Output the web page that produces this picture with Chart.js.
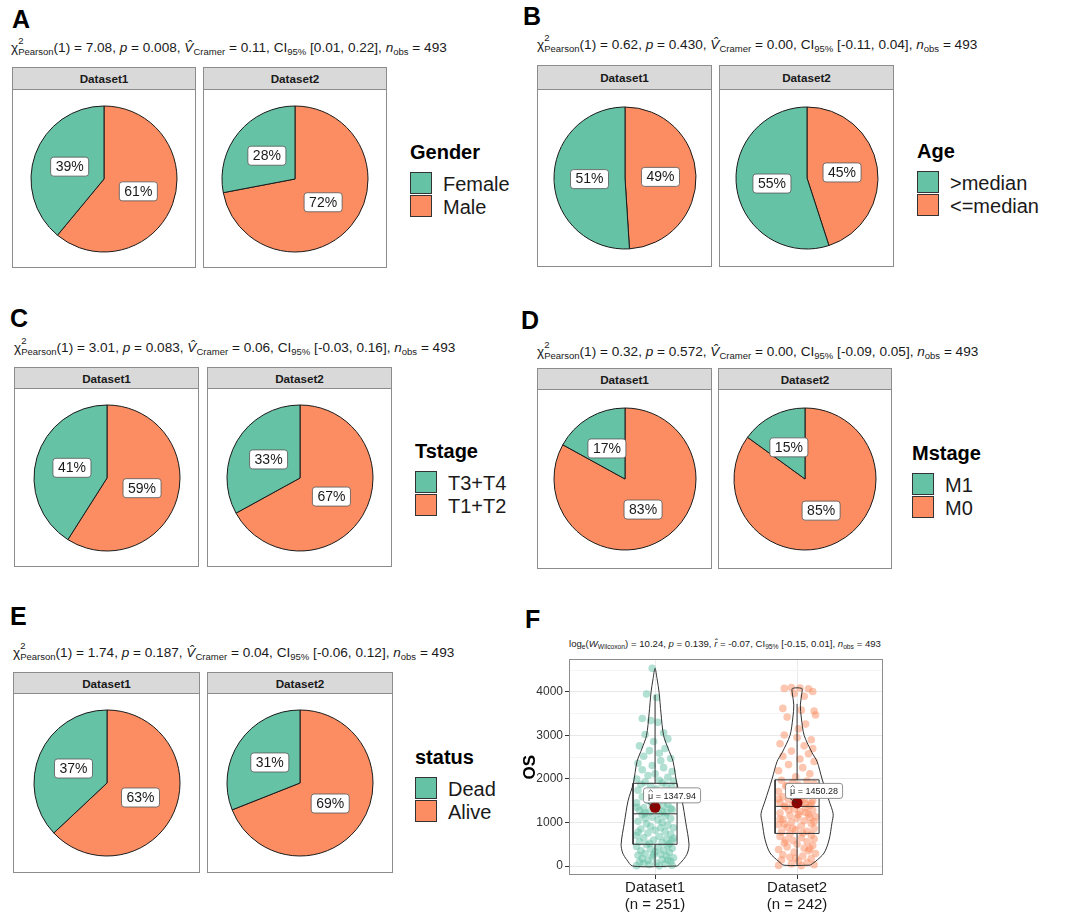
<!DOCTYPE html>
<html><head><meta charset="utf-8">
<script src="https://cdn.jsdelivr.net/npm/chart.js@4.4.1/dist/chart.umd.min.js"></script>
<style>
body{margin:0;background:#fff;font-family:"Liberation Sans",Arial,sans-serif;color:#1a1a1a}
#root{position:relative;width:1091px;height:912px;overflow:hidden;background:#fff}
.abs{position:absolute;line-height:1;white-space:nowrap}
.tag{font-weight:bold;color:#000}
.sub{color:#1a1a1a}
.sub sub{font-size:.7em;vertical-align:-.3em;line-height:0}
.stk{position:relative;font-size:.7em;vertical-align:-.3em;line-height:0}
.stk .up{position:absolute;left:0;top:-1.1em;line-height:1}
.facet{position:absolute;box-sizing:border-box;border:1px solid #8c8c8c;background:#fff}
.strip{box-sizing:border-box;background:#d9d9d9;border-bottom:1px solid #8c8c8c;display:flex;align-items:center;justify-content:center;font-weight:bold;font-size:11.7px;color:#1a1a1a}
.key{position:absolute;box-sizing:border-box;border:1px solid #333;width:22px;height:22px}
.ltitle{font-weight:bold;color:#000}
canvas{position:absolute}
</style>
</head><body><div id="root"></div>
<script>
// ---------------- data ----------------
const facetNames = ['Dataset1', 'Dataset2'];

const genderLevels = ['Female', 'Male'];
const genderDataset1 = [39, 61];
const genderDataset2 = [28, 72];

const ageLevels = ['>median', '<=median'];
const ageDataset1 = [51, 49];
const ageDataset2 = [55, 45];

const tstageLevels = ['T3+T4', 'T1+T2'];
const tstageDataset1 = [41, 59];
const tstageDataset2 = [33, 67];

const mstageLevels = ['M1', 'M0'];
const mstageDataset1 = [17, 83];
const mstageDataset2 = [15, 85];

const statusLevels = ['Dead', 'Alive'];
const statusDataset1 = [37, 63];
const statusDataset2 = [31, 69];

// chi-square subtitles: chi2, p, Cramer V, CI low, CI high
const chiStat = ['7.08', '0.62', '3.01', '0.32', '1.74'];
const chiP = ['0.008', '0.430', '0.083', '0.572', '0.187'];
const cramerV = ['0.11', '0.00', '0.06', '0.00', '0.04'];
const ciLow = ['0.01', '-0.11', '-0.03', '-0.09', '-0.06'];
const ciHigh = ['0.22', '0.04', '0.16', '0.05', '0.12'];
const nObs = 493;

// panel F: OS by dataset
const osCategories = ['Dataset1', 'Dataset2'];
const osCounts = [251, 242];
const osMeans = [1347.94, 1450.28];
const osQ1 = [500, 750];
const osMedian = [1200, 1370];
const osQ3 = [1900, 1980];
const osWhiskerLow = [0, 20];
const osWhiskerHigh = [3930, 3725];
const yTickValues = [0, 500, 1000, 1500, 2000, 2500, 3000, 3500, 4000, 4500];
const yTickLabels = ['0', '', '1000', '', '2000', '', '3000', '', '4000', ''];

const violin1Y = [0, 150, 300, 500, 1000, 1500, 1900, 2400, 2700, 3000, 3500, 4000, 4300, 4540];
const violin1W = [0.157, 0.2, 0.228, 0.239, 0.216, 0.19, 0.153, 0.127, 0.092, 0.06, 0.042, 0.028, 0.014, 0];
const violin2Y = [20, 100, 300, 600, 1000, 1200, 1500, 2000, 2400, 2600, 3000, 3400, 3700, 4000, 4080];
const violin2W = [0.092, 0.127, 0.19, 0.225, 0.246, 0.254, 0.225, 0.176, 0.141, 0.106, 0.05, 0.03, 0.023, 0.035, 0.033];

// jittered observations: [horizontal jitter, OS]
const dataset1Jitter = [
[-0.02,4540],[-0.06,3950],[0.01,3870],[-0.09,3390],[-0.03,3340],[0.02,3300],[0.06,3060],[-0.07,3020],[0.09,2920],[-0.01,2860],
[-0.11,2760],[0.07,2700],[-0.04,2650],[0.03,2590],[-0.08,2520],[0.11,2470],[0.04,2420],[-0.12,2360],[-0.02,2310],[0.06,2260],
[-0.09,2210],[0.12,2170],[0.0,2120],[-0.05,2080],[0.09,2040],[-0.13,2000],[0.03,1970],[0.13,1950],[-0.07,1930],[0.05,1910],
[-0.1,1880],[0.08,1860],[-0.03,1830],[0.12,1800],[0.01,1770],[-0.12,1740],[0.06,1710],[-0.06,1680],[0.1,1650],[-0.01,1620],
[-0.09,1590],[0.04,1560],[0.13,1530],[-0.05,1500],[0.02,1470],[-0.13,1450],[0.09,1420],[-0.02,1390],[0.06,1370],[-0.08,1340],
[0.11,1320],[0.0,1300],[-0.11,1280],[0.05,1260],[-0.04,1240],[0.08,1225],[-0.07,1215],[0.03,1205],[0.12,1290],[-0.13,1350],
[-0.09,1180],[0.07,1150],[-0.02,1120],[0.11,1090],[0.02,1060],[-0.12,1030],[0.05,1000],[-0.06,970],[0.09,940],[-0.03,910],
[0.13,880],[-0.1,850],[0.0,820],[0.07,790],[-0.05,760],[0.11,730],[-0.13,700],[0.03,680],[-0.08,650],[0.08,620],
[-0.01,600],[0.12,580],[-0.11,560],[0.05,540],[-0.04,520],[0.1,510],[-0.07,1100],[0.04,880],[-0.12,780],[0.13,640],
[-0.06,490],[0.09,470],[-0.13,450],[0.02,430],[0.12,410],[-0.03,390],[0.06,370],[-0.1,350],[0.0,330],[0.1,310],
[-0.07,290],[0.04,270],[-0.12,250],[0.08,230],[-0.02,210],[0.13,190],[-0.09,170],[0.05,150],[-0.05,130],[0.11,110],
[-0.11,90],[0.01,70],[0.07,50],[-0.04,35],[0.12,20],[-0.13,10],[0.03,5],[-0.08,60],[0.09,140],[-0.01,260]
];
const dataset2Jitter = [
[-0.09,4080],[-0.04,4100],[0.02,4090],[0.08,4070],[0.11,4010],[-0.02,3960],[0.05,3900],[-0.1,3620],[0.03,3580],[0.12,3560],
[0.13,3470],[-0.07,3420],[0.06,3260],[0.01,3150],[-0.09,3010],[0.0,2950],[0.1,2900],[-0.12,2810],[0.05,2760],[0.11,2700],
[-0.04,2640],[0.08,2580],[-0.1,2520],[0.02,2460],[0.12,2400],[-0.06,2330],[0.04,2260],[-0.13,2190],[0.09,2120],[-0.01,2050],
[-0.11,1970],[0.07,1950],[-0.03,1920],[0.12,1890],[0.01,1860],[-0.08,1830],[0.1,1800],[-0.05,1770],[0.04,1740],[-0.13,1710],
[0.08,1680],[-0.01,1650],[0.13,1620],[-0.1,1590],[0.03,1560],[-0.06,1530],[0.11,1500],[0.0,1470],[-0.12,1450],[0.06,1430],
[-0.03,1410],[0.09,1390],[-0.09,1380],[0.02,1600],[0.12,1720],[-0.07,1850],[0.05,1520],[-0.02,1760],[0.1,1440],[-0.13,1540],
[-0.08,1360],[0.06,1340],[-0.02,1310],[0.11,1280],[0.02,1250],[-0.12,1220],[0.08,1190],[-0.05,1160],[0.13,1130],[0.0,1100],
[-0.1,1070],[0.05,1040],[-0.04,1010],[0.1,980],[-0.13,950],[0.03,920],[-0.07,890],[0.12,860],[-0.01,830],[0.07,800],
[-0.11,780],[0.04,760],[-0.06,1290],[0.09,1120],[-0.09,960],[0.01,1180],[0.12,1020],[-0.03,870],[0.06,1230],[-0.12,1080],
[-0.05,740],[0.1,710],[-0.12,680],[0.03,650],[0.12,620],[-0.03,590],[0.07,560],[-0.09,530],[0.0,500],[0.11,470],
[-0.07,440],[0.05,410],[-0.13,380],[0.08,350],[-0.02,320],[0.13,290],[-0.1,260],[0.04,230],[-0.05,200],[0.1,170],
[-0.11,140],[0.01,110],[0.07,80],[-0.04,50],[0.12,30],[-0.13,15],[0.03,10],[-0.08,600],[0.09,400],[-0.01,180]
];

// ---------------- layout / style ----------------
const GREEN = '#66C2A5', ORANGE = '#FC8D62';
const FONT = '"Liberation Sans", Arial, sans-serif';
const root = document.getElementById('root');

const panels = [
  {tag:'A', tagX:12, tagBase:28, subX:11, subBase:53, facets:[[12,196],[203,387]], stripTop:67, stripBot:89, bottom:268, r:73, lx:410, keyTop:172, title:'Gender', levels:genderLevels, d:[genderDataset1, genderDataset2]},
  {tag:'B', tagX:523, tagBase:25, subX:537, subBase:50, facets:[[537,712],[719,894]], stripTop:65, stripBot:89, bottom:267, r:71, lx:917, keyTop:171, title:'Age', levels:ageLevels, d:[ageDataset1, ageDataset2]},
  {tag:'C', tagX:10, tagBase:327, subX:14, subBase:353, facets:[[14,199],[207,392]], stripTop:367, stripBot:388, bottom:567, r:73, lx:415, keyTop:471, title:'Tstage', levels:tstageLevels, d:[tstageDataset1, tstageDataset2]},
  {tag:'D', tagX:521, tagBase:329, subX:537, subBase:357, facets:[[537,712],[718,892]], stripTop:368, stripBot:389, bottom:569, r:71, lx:912, keyTop:473, title:'Mstage', levels:mstageLevels, d:[mstageDataset1, mstageDataset2]},
  {tag:'E', tagX:10, tagBase:625, subX:13, subBase:658, facets:[[13,200],[207,393]], stripTop:672, stripBot:693, bottom:873, r:73, lx:415, keyTop:777, title:'status', levels:statusLevels, d:[statusDataset1, statusDataset2]}
];

function addText(html, x, baseline, fs, cls) {
  const d = document.createElement('div');
  d.className = 'abs ' + (cls || '');
  d.style.fontSize = fs + 'px';
  d.style.left = x + 'px';
  d.style.top = (baseline - 0.8465 * fs) + 'px';
  d.innerHTML = html;
  root.appendChild(d);
  return d;
}
function addBox(cls, x, y, w, h) {
  const d = document.createElement('div');
  d.className = cls;
  Object.assign(d.style, {left:x+'px', top:y+'px', width:w+'px', height:h+'px'});
  root.appendChild(d);
  return d;
}
function chiSubtitle(i) {
  return '\u03C7<span class="stk"><span class="up">2</span>Pearson</span>(1) = ' + chiStat[i] +
    ', <i>p</i> = ' + chiP[i] + ', <i>V\u0302</i><sub>Cramer</sub> = ' + cramerV[i] +
    ', CI<sub>95%</sub> [' + ciLow[i] + ', ' + ciHigh[i] + '], <i>n</i><sub>obs</sub> = ' + nObs;
}

const pctLabelPlugin = {
  id: 'pctLabels',
  afterDatasetsDraw(chart) {
    const ctx = chart.ctx;
    const ds = chart.data.datasets[0];
    chart.getDatasetMeta(0).data.forEach((arc, i) => {
      const p = arc.getCenterPoint();
      const txt = ds.data[i] + '%';
      ctx.save();
      ctx.font = '14px ' + FONT;
      const w = ctx.measureText(txt).width + 10, h = 19;
      const x = p.x - w / 2, y = p.y - h / 2;
      ctx.beginPath();
      ctx.roundRect(x, y, w, h, 3);
      ctx.fillStyle = '#fff';
      ctx.fill();
      ctx.lineWidth = 0.8;
      ctx.strokeStyle = '#555';
      ctx.stroke();
      ctx.fillStyle = '#1a1a1a';
      ctx.textAlign = 'center';
      ctx.textBaseline = 'middle';
      ctx.fillText(txt, p.x, p.y + 0.5);
      ctx.restore();
    });
  }
};

function makePie(cx, cy, r, values) {
  const c = document.createElement('canvas');
  const size = 2 * r + 6;
  c.width = size; c.height = size;
  c.style.left = (cx - size / 2) + 'px';
  c.style.top = (cy - size / 2) + 'px';
  root.appendChild(c);
  new Chart(c, {
    type: 'pie',
    data: {
      labels: ['b', 'a'],
      datasets: [{
        data: [values[1], values[0]],
        backgroundColor: [ORANGE, GREEN],
        borderColor: '#1a1a1a',
        borderWidth: 1,
        radius: r
      }]
    },
    options: {
      responsive: false, animation: false, devicePixelRatio: 1,
      layout: {padding: 0},
      events: [],
      plugins: {legend: {display: false}, tooltip: {enabled: false}}
    },
    plugins: [pctLabelPlugin]
  });
}

panels.forEach((p, pi) => {
  addText(p.tag, p.tagX, p.tagBase, 25, 'tag');
  addText(chiSubtitle(pi), p.subX, p.subBase, 13.6, 'sub');
  p.facets.forEach(([x0, x1], fi) => {
    const f = addBox('facet', x0, p.stripTop, x1 - x0, p.bottom - p.stripTop);
    const s = document.createElement('div');
    s.className = 'strip';
    s.style.height = (p.stripBot - p.stripTop) + 'px';
    s.textContent = facetNames[fi];
    f.appendChild(s);
    makePie((x0 + x1) / 2, (p.stripBot + p.bottom) / 2, p.r, p.d[fi]);
  });
  addText(p.title, p.lx, p.keyTop - 13, 20, 'ltitle');
  p.levels.forEach((lv, li) => {
    const k = addBox('key', p.lx, p.keyTop + li * 23, 22, 22);
    k.style.background = li === 0 ? GREEN : ORANGE;
    addText(lv, p.lx + 33, p.keyTop + li * 23 + 18.5, 20, '');
  });
});

// ---------------- panel F ----------------
addText('F', 525, 628, 25, 'tag');
addText('log<sub>e</sub>(<i>W</i><sub>Wilcoxon</sub>) = 10.24, <i>p</i> = 0.139, <i>r\u0302</i> = -0.07, CI<sub>95%</sub> [-0.15, 0.01], <i>n</i><sub>obs</sub> = 493', 569, 647, 9.6, 'sub');

const cf = document.createElement('canvas');
cf.width = 370; cf.height = 262;
cf.style.left = '520px'; cf.style.top = '650px';
root.appendChild(cf);

function violinPath(c, Y, W) {
  const right = Y.map((y, i) => ({x: c + W[i], y}));
  const left = Y.map((y, i) => ({x: c - W[i], y})).reverse();
  if (W[W.length - 1] === 0) left.shift();
  return [...right, ...left, right[0]];
}
function boxPath(i) {
  const c = i + 1, h = 0.155;
  return [
    {x:c, y:osWhiskerLow[i]}, {x:c, y:osQ1[i]}, {x:c, y:null},
    {x:c-h, y:osQ1[i]}, {x:c+h, y:osQ1[i]}, {x:c+h, y:osQ3[i]}, {x:c-h, y:osQ3[i]}, {x:c-h, y:osQ1[i]}, {x:c, y:null},
    {x:c-h, y:osMedian[i]}, {x:c+h, y:osMedian[i]}, {x:c, y:null},
    {x:c, y:osQ3[i]}, {x:c, y:osWhiskerHigh[i]}
  ];
}
const lineDs = (data, tension) => ({data, showLine:true, tension, borderColor:'#333', borderWidth:1, pointRadius:0, fill:false});

const framePlugin = {
  id: 'frame',
  afterDatasetsDraw(chart) {
    const {ctx, chartArea: a} = chart;
    // mean labels
    const meta = chart.getDatasetMeta(0);
    meta.data.forEach((pt, i) => {
      const mu = '\u03BC';
      const rest = ' = ' + osMeans[i].toFixed(2);
      ctx.save();
      ctx.font = '9px ' + FONT;
      const mw = ctx.measureText(mu).width;
      const tw = mw + ctx.measureText(rest).width;
      const w = tw + 9, h = 15;
      const lx = pt.x + 17, ly = pt.y - 12;
      ctx.strokeStyle = '#333'; ctx.lineWidth = 0.8;
      ctx.beginPath(); ctx.moveTo(pt.x, pt.y); ctx.lineTo(lx - w / 2 + 4, ly + h / 2); ctx.stroke();
      ctx.beginPath(); ctx.roundRect(lx - w / 2, ly - h / 2, w, h, 2.5);
      ctx.fillStyle = '#fff'; ctx.fill();
      ctx.strokeStyle = '#777'; ctx.stroke();
      const x0 = lx - tw / 2;
      ctx.fillStyle = '#1a1a1a'; ctx.textAlign = 'left'; ctx.textBaseline = 'middle';
      ctx.fillText(mu, x0, ly + 1);
      ctx.fillText(rest, x0 + mw, ly + 1);
      // hat over mu
      ctx.strokeStyle = '#1a1a1a'; ctx.lineWidth = 0.7;
      ctx.beginPath();
      ctx.moveTo(x0 + 0.5, ly - 3.5); ctx.lineTo(x0 + mw / 2, ly - 5.5); ctx.lineTo(x0 + mw - 0.5, ly - 3.5);
      ctx.stroke();
      ctx.restore();
    });
    ctx.save();
    ctx.strokeStyle = '#8c8c8c'; ctx.lineWidth = 1;
    ctx.strokeRect(Math.round(a.left) + 0.5, Math.round(a.top) + 0.5, Math.round(a.right - a.left) - 1, Math.round(a.bottom - a.top) - 1);
    ctx.restore();
  }
};

new Chart(cf, {
  type: 'scatter',
  data: {
    datasets: [
      {data: osMeans.map((m, i) => ({x: i + 1, y: m})), pointRadius: 5.5, backgroundColor: '#8B0000', borderColor: '#8B0000', borderWidth: 0},
      lineDs(boxPath(0), 0),
      lineDs(boxPath(1), 0),
      lineDs(violinPath(1, violin1Y, violin1W), 0.3),
      lineDs(violinPath(2, violin2Y, violin2W), 0.3),
      {data: dataset1Jitter.map(([dx, y]) => ({x: 1 + dx, y})), pointRadius: 3.8, backgroundColor: 'rgba(102,194,165,0.5)', borderWidth: 0},
      {data: dataset2Jitter.map(([dx, y]) => ({x: 2 + dx, y})), pointRadius: 3.8, backgroundColor: 'rgba(252,141,98,0.5)', borderWidth: 0}
    ]
  },
  options: {
    responsive: false, animation: false, devicePixelRatio: 1, events: [],
    layout: {padding: {top: 7, right: 7, left: 0, bottom: 0}},
    plugins: {legend: {display: false}, tooltip: {enabled: false}},
    scales: {
      x: {
        type: 'linear', min: 0.394, max: 2.605,
        afterBuildTicks: s => { s.ticks = osCategories.map((c, i) => ({value: i + 1})); },
        afterFit: s => { s.height = 37; },
        ticks: {
          autoSkip: false, maxRotation: 0, padding: 1,
          callback: (v, i) => [osCategories[i], '(n = ' + osCounts[i] + ')'],
          font: {size: 15, family: FONT, lineHeight: 1.1}, color: '#1a1a1a'
        },
        grid: {color: '#ebebeb', tickColor: '#333', tickLength: 4},
        border: {display: false}
      },
      y: {
        min: -205, max: 4750,
        afterBuildTicks: s => { s.ticks = yTickValues.map(v => ({value: v})); },
        afterFit: s => { s.width = 49; },
        ticks: {
          padding: 2,
          callback: (v, i) => yTickLabels[i],
          font: {size: 12, family: FONT}, color: '#333'
        },
        grid: {
          color: ctx => (ctx.tick && yTickLabels[ctx.index] !== '') ? '#e8e8e8' : '#f4f4f4',
          tickColor: ctx => (ctx.tick && yTickLabels[ctx.index] !== '') ? '#333' : 'rgba(0,0,0,0)',
          tickLength: 4
        },
        border: {display: false},
        title: {display: true, text: 'OS', font: {size: 17, weight: 'bold', family: FONT}, color: '#000', padding: {top: 0, bottom: 0}}
      }
    }
  },
  plugins: [framePlugin]
});
</script>
</body></html>
